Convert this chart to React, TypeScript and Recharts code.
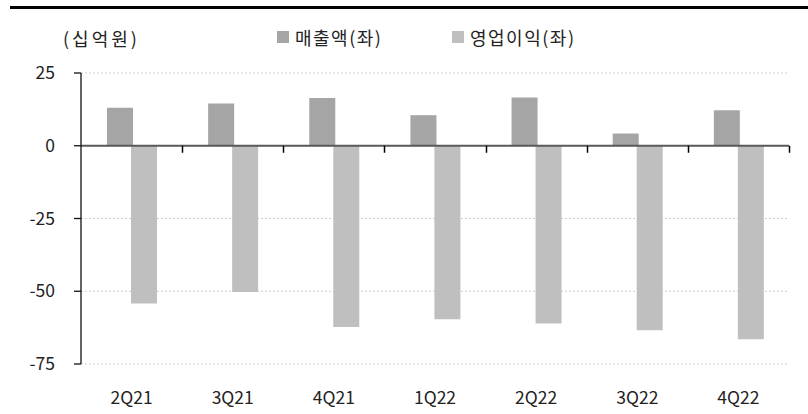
import { BarChart, Bar, XAxis, YAxis, CartesianGrid, ReferenceLine } from 'recharts'

const quarters = ['2Q21', '3Q21', '4Q21', '1Q22', '2Q22', '3Q22', '4Q22']
const sales = [13.1, 14.5, 16.4, 10.5, 16.6, 4.2, 12.2]
const opProfit = [-54.2, -50.3, -62.3, -59.6, -61.1, -63.4, -66.5]
const yTicks = [25, 0, -25, -50, -75]

const seriesNames = ['매출액(좌)', '영업이익(좌)']
const seriesColors = ['#a5a5a5', '#bfbfbf']
const legendLeft = [277, 452]

const data = quarters.map((q, i) => ({ q, sales: sales[i], op: opProfit[i] }))

const W = 808
const H = 414
const M = { top: 73, right: 19, bottom: 10, left: 0 }
const Y_W = 81
const X_H = 40
const FONT = '"Noto Sans CJK KR", "Noto Sans", sans-serif'

// plot area, used only to place the little boundary ticks on the zero line
const plotTop = M.top
const plotH = H - M.top - M.bottom - X_H
const plotW = W - M.left - M.right - Y_W
const zeroY = plotTop + (plotH * (25 - 0)) / 100
const band = plotW / quarters.length

function QuarterTick(props: any) {
  const { x, y, payload } = props
  const bx = Math.round(x + band / 2) + 0.5
  return (
    <g>
      <text x={x} y={y} dy={38} textAnchor="middle" fontSize={17.5} fill="#222" fontFamily={FONT}>
        {payload.value}
      </text>
      <path d={`M${bx},${zeroY} V${zeroY + 7}`} stroke="#000" strokeWidth={1.5} fill="none" />
    </g>
  )
}

function LegendBox() {
  return (
    <>
      {seriesNames.map((n, i) => (
        <div
          key={n}
          style={{
            position: 'absolute', left: legendLeft[i], top: 26, display: 'flex', alignItems: 'center',
            fontFamily: FONT, fontSize: 18, color: '#222', lineHeight: '22px', letterSpacing: 1.5,
          }}
        >
          <span style={{ width: 12, height: 12, background: seriesColors[i], marginRight: 6, display: 'inline-block' }} />
          <span>{n}</span>
        </div>
      ))}
    </>
  )
}

export default function App() {
  return (
    <div style={{ position: 'absolute', left: 0, top: 0, width: W, height: H, background: '#fff' }}>
      <div style={{ position: 'absolute', left: 10, right: 0, top: 6, height: 3, background: '#000' }} />
      <div style={{ position: 'absolute', left: 63, top: 26, fontFamily: FONT, fontSize: 18, lineHeight: '24px', color: '#222', letterSpacing: 3 }}>
        (십억원)
      </div>
      <LegendBox />
      <BarChart width={W} height={H} data={data} margin={M} barSize={26} barGap={-2}>
        <CartesianGrid vertical={false} stroke="#cfcfcf" strokeDasharray="2 2" />
        <Bar dataKey="sales" name={seriesNames[0]} fill={seriesColors[0]} isAnimationActive={false} />
        <Bar dataKey="op" name={seriesNames[1]} fill={seriesColors[1]} isAnimationActive={false} />
        <ReferenceLine y={0} stroke="#595959" strokeWidth={2} />
        <XAxis
          dataKey="q"
          axisLine={false}
          tickLine={false}
          height={X_H}
          tickSize={0}
          tick={<QuarterTick />}
          interval={0}
        />
        <YAxis
          width={Y_W}
          domain={[-75, 25]}
          ticks={yTicks}
          interval={0}
          axisLine={{ stroke: '#111', strokeWidth: 1.3 }}
          tickLine={{ stroke: '#111', strokeWidth: 1.3 }}
          tickSize={7}
          tickMargin={19}
          tick={{ fontSize: 17.5, fill: '#222', fontFamily: FONT }}
        />
      </BarChart>
    </div>
  )
}
